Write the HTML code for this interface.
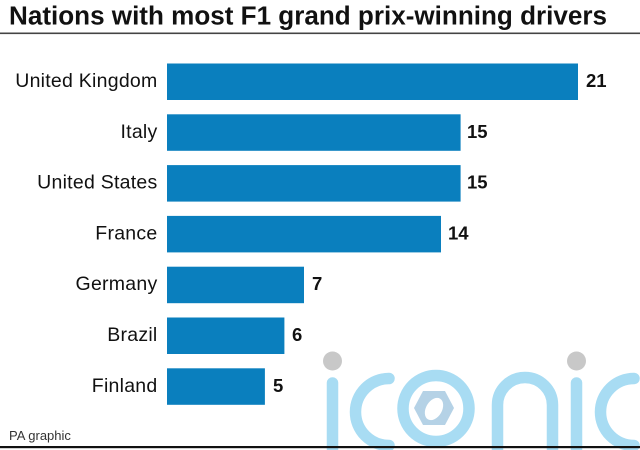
<!DOCTYPE html>
<html>
<head>
<meta charset="utf-8">
<style>
  html, body { margin: 0; padding: 0; background: #fff; }
  body { width: 640px; height: 450px; overflow: hidden; }
  svg { display: block; }
  .lbl { font-family: "Liberation Sans", Arial, sans-serif; font-size: 19.5px; fill: #111; letter-spacing: 0.25px; }
  .val { font-family: "Liberation Sans", Arial, sans-serif; font-size: 18.5px; font-weight: bold; fill: #111; }
</style>
</head>
<body>
<svg width="640" height="450" viewBox="0 0 640 450" xmlns="http://www.w3.org/2000/svg">
  <rect x="0" y="0" width="640" height="450" fill="#fff"/>

  <!-- Title -->
  <text x="9" y="24.5" font-family="Liberation Sans, Arial, sans-serif" font-size="25.5" font-weight="bold" fill="#111" textLength="598" lengthAdjust="spacingAndGlyphs">Nations with most F1 grand prix-winning drivers</text>
  <rect x="0" y="32.5" width="640" height="1.6" fill="#444"/>

  <!-- Watermark -->
  <g fill="none" stroke="#a8dcf3" stroke-width="11.5" stroke-linecap="round">
    <line x1="332.5" y1="383" x2="332.5" y2="470"/>
    <path d="M 389 378.5 A 33.5 33.5 0 1 0 389 445.5"/>
    <circle cx="436" cy="408.5" r="33"/>
    <path d="M 497.5 470 L 497.5 405 A 27.5 27.5 0 0 1 552.5 405 L 552.5 470"/>
    <line x1="576.5" y1="383" x2="576.5" y2="470"/>
    <path d="M 634 378.5 A 33.5 33.5 0 1 0 634 445.5"/>
  </g>
  <circle cx="332.5" cy="361" r="9.5" fill="#c8c8c8"/>
  <circle cx="576.5" cy="361" r="9.5" fill="#c8c8c8"/>
  <polygon points="423,391 445,391 454,408 445,425 423,425 414,408" fill="#b5d2e6"/>
  <ellipse cx="434" cy="409" rx="8" ry="12" transform="rotate(30 434 409)" fill="#fff"/>

  <!-- Bars -->
  <g fill="#0a7fbe">
    <rect x="167" y="63.5" width="411" height="36.5"/>
    <rect x="167" y="114.3" width="293.6" height="36.5"/>
    <rect x="167" y="165.1" width="293.6" height="36.5"/>
    <rect x="167" y="215.9" width="274" height="36.5"/>
    <rect x="167" y="266.7" width="137" height="36.5"/>
    <rect x="167" y="317.5" width="117.4" height="36.5"/>
    <rect x="167" y="368.3" width="97.9" height="36.5"/>
  </g>

  <!-- Category labels -->
  <g class="lbl" text-anchor="end">
    <text x="157.5" y="87">United Kingdom</text>
    <text x="157.5" y="137.8">Italy</text>
    <text x="157.5" y="188.6">United States</text>
    <text x="157.5" y="239.4">France</text>
    <text x="157.5" y="290.2">Germany</text>
    <text x="157.5" y="341">Brazil</text>
    <text x="157.5" y="391.8">Finland</text>
  </g>

  <!-- Value labels -->
  <g class="val">
    <text x="586" y="87">21</text>
    <text x="467" y="137.8">15</text>
    <text x="467" y="188.6">15</text>
    <text x="448" y="239.4">14</text>
    <text x="312" y="290.2">7</text>
    <text x="292" y="341">6</text>
    <text x="273" y="391.8">5</text>
  </g>

  <!-- Footer -->
  <text x="9" y="440" font-family="Liberation Sans, Arial, sans-serif" font-size="13" fill="#333">PA graphic</text>
  <rect x="0" y="446" width="640" height="2.2" fill="#111"/>
</svg>
</body>
</html>
